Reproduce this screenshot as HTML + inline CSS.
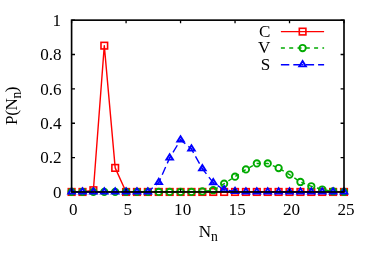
<!DOCTYPE html><html><head><meta charset="utf-8"><style>html,body{margin:0;padding:0;background:#fff}body{width:374px;height:262px;overflow:hidden}</style></head><body><svg width="374" height="262" viewBox="0 0 374 262" style="display:block;will-change:transform" font-family="'Liberation Serif', serif" font-size="17.1" fill="#000">
<rect width="374" height="262" fill="#fff"/>
<text x="61.6" y="197.75" text-anchor="end">0</text>
<text x="61.6" y="163.39" text-anchor="end">0.2</text>
<text x="61.6" y="129.03" text-anchor="end">0.4</text>
<text x="61.6" y="94.67" text-anchor="end">0.6</text>
<text x="61.6" y="60.31" text-anchor="end">0.8</text>
<text x="61" y="25.95" text-anchor="end">1</text>
<text x="73.20" y="214.7" text-anchor="middle">0</text>
<text x="127.68" y="214.7" text-anchor="middle">5</text>
<text x="182.66" y="214.7" text-anchor="middle">10</text>
<text x="237.14" y="214.7" text-anchor="middle">15</text>
<text x="291.62" y="214.7" text-anchor="middle">20</text>
<text x="346.10" y="214.7" text-anchor="middle">25</text>
<text transform="translate(16.7,105.9) rotate(-90)" text-anchor="middle" letter-spacing="-0.4">P(N<tspan dy="4" font-size="13.7">n</tspan><tspan dy="-4">)</tspan></text>
<text x="208.3" y="237" text-anchor="middle">N<tspan dy="4.3" font-size="13.7">n</tspan></text>
<polyline points="71.60,191.95 82.50,191.95 93.39,190.23 104.29,45.66 115.18,167.90 126.08,191.95 136.98,191.95 147.87,191.95 158.77,191.95 169.66,191.95 180.56,191.95 191.46,191.95 202.35,191.95 213.25,191.95 224.14,191.95 235.04,191.95 245.94,191.95 256.83,191.95 267.73,191.95 278.62,191.95 289.52,191.95 300.42,191.95 311.31,191.95 322.21,191.95 333.10,191.95 344.00,191.95" fill="none" stroke="#ff0000" stroke-width="1.4" stroke-linejoin="round"/>
<g fill="none" stroke="#ff0000" stroke-width="1.6"><rect x="68.30" y="188.65" width="6.60" height="6.60"/><rect x="79.20" y="188.65" width="6.60" height="6.60"/><rect x="90.09" y="186.93" width="6.60" height="6.60"/><rect x="100.99" y="42.36" width="6.60" height="6.60"/><rect x="111.88" y="164.60" width="6.60" height="6.60"/><rect x="122.78" y="188.65" width="6.60" height="6.60"/><rect x="133.68" y="188.65" width="6.60" height="6.60"/><rect x="144.57" y="188.65" width="6.60" height="6.60"/><rect x="155.47" y="188.65" width="6.60" height="6.60"/><rect x="166.36" y="188.65" width="6.60" height="6.60"/><rect x="177.26" y="188.65" width="6.60" height="6.60"/><rect x="188.16" y="188.65" width="6.60" height="6.60"/><rect x="199.05" y="188.65" width="6.60" height="6.60"/><rect x="209.95" y="188.65" width="6.60" height="6.60"/><rect x="220.84" y="188.65" width="6.60" height="6.60"/><rect x="231.74" y="188.65" width="6.60" height="6.60"/><rect x="242.64" y="188.65" width="6.60" height="6.60"/><rect x="253.53" y="188.65" width="6.60" height="6.60"/><rect x="264.43" y="188.65" width="6.60" height="6.60"/><rect x="275.32" y="188.65" width="6.60" height="6.60"/><rect x="286.22" y="188.65" width="6.60" height="6.60"/><rect x="297.12" y="188.65" width="6.60" height="6.60"/><rect x="308.01" y="188.65" width="6.60" height="6.60"/><rect x="318.91" y="188.65" width="6.60" height="6.60"/><rect x="329.80" y="188.65" width="6.60" height="6.60"/><rect x="340.70" y="188.65" width="6.60" height="6.60"/></g>
<polyline points="71.60,191.95 82.50,191.95 93.39,191.95 104.29,191.95 115.18,191.95 126.08,191.95 136.98,191.95 147.87,191.95 158.77,191.95 169.66,191.95 180.56,191.95 191.46,191.95 202.35,191.43 213.25,190.23 224.14,183.70 235.04,176.66 245.94,169.44 256.83,163.43 267.73,163.43 278.62,168.07 289.52,174.60 300.42,181.99 311.31,186.28 322.21,189.54 333.10,191.26 344.00,191.95" fill="none" stroke="#00aa00" stroke-width="1.4" stroke-dasharray="4 4.3" stroke-dashoffset="6.5"/>
<g fill="none" stroke="#00aa00" stroke-width="1.85"><circle cx="71.60" cy="191.95" r="3.20"/><circle cx="82.50" cy="191.95" r="3.20"/><circle cx="93.39" cy="191.95" r="3.20"/><circle cx="104.29" cy="191.95" r="3.20"/><circle cx="115.18" cy="191.95" r="3.20"/><circle cx="126.08" cy="191.95" r="3.20"/><circle cx="136.98" cy="191.95" r="3.20"/><circle cx="147.87" cy="191.95" r="3.20"/><circle cx="158.77" cy="191.95" r="3.20"/><circle cx="169.66" cy="191.95" r="3.20"/><circle cx="180.56" cy="191.95" r="3.20"/><circle cx="191.46" cy="191.95" r="3.20"/><circle cx="202.35" cy="191.43" r="3.20"/><circle cx="213.25" cy="190.23" r="3.20"/><circle cx="224.14" cy="183.70" r="3.20"/><circle cx="235.04" cy="176.66" r="3.20"/><circle cx="245.94" cy="169.44" r="3.20"/><circle cx="256.83" cy="163.43" r="3.20"/><circle cx="267.73" cy="163.43" r="3.20"/><circle cx="278.62" cy="168.07" r="3.20"/><circle cx="289.52" cy="174.60" r="3.20"/><circle cx="300.42" cy="181.99" r="3.20"/><circle cx="311.31" cy="186.28" r="3.20"/><circle cx="322.21" cy="189.54" r="3.20"/><circle cx="333.10" cy="191.26" r="3.20"/><circle cx="344.00" cy="191.95" r="3.20"/></g>
<polyline points="71.60,191.95 82.50,191.95 93.39,191.95 104.29,191.95 115.18,191.95 126.08,191.95 136.98,191.95 147.87,191.95 158.77,182.50 169.66,157.93 180.56,139.89 191.46,149.00 202.35,168.76 213.25,182.67 224.14,189.72 235.04,191.43 245.94,191.95 256.83,191.95 267.73,191.95 278.62,191.95 289.52,191.95 300.42,191.95 311.31,191.95 322.21,191.95 333.10,191.95 344.00,191.95" fill="none" stroke="#0000ff" stroke-width="1.4" stroke-dasharray="8.4 4"/>
<g fill="none" stroke="#0000ff" stroke-width="1.9"><path d="M71.60 188.25L68.30 193.60H74.90Z"/><path d="M71.60 191.85h0.01" stroke-linecap="round"/><path d="M82.50 188.25L79.20 193.60H85.80Z"/><path d="M82.50 191.85h0.01" stroke-linecap="round"/><path d="M93.39 188.25L90.09 193.60H96.69Z"/><path d="M93.39 191.85h0.01" stroke-linecap="round"/><path d="M104.29 188.25L100.99 193.60H107.59Z"/><path d="M104.29 191.85h0.01" stroke-linecap="round"/><path d="M115.18 188.25L111.88 193.60H118.48Z"/><path d="M115.18 191.85h0.01" stroke-linecap="round"/><path d="M126.08 188.25L122.78 193.60H129.38Z"/><path d="M126.08 191.85h0.01" stroke-linecap="round"/><path d="M136.98 188.25L133.68 193.60H140.28Z"/><path d="M136.98 191.85h0.01" stroke-linecap="round"/><path d="M147.87 188.25L144.57 193.60H151.17Z"/><path d="M147.87 191.85h0.01" stroke-linecap="round"/><path d="M158.77 178.80L155.47 184.15H162.07Z"/><path d="M158.77 182.40h0.01" stroke-linecap="round"/><path d="M169.66 154.24L166.36 159.58H172.96Z"/><path d="M169.66 157.83h0.01" stroke-linecap="round"/><path d="M180.56 136.20L177.26 141.54H183.86Z"/><path d="M180.56 139.79h0.01" stroke-linecap="round"/><path d="M191.46 145.30L188.16 150.65H194.76Z"/><path d="M191.46 148.90h0.01" stroke-linecap="round"/><path d="M202.35 165.06L199.05 170.41H205.65Z"/><path d="M202.35 168.66h0.01" stroke-linecap="round"/><path d="M213.25 178.98L209.95 184.32H216.55Z"/><path d="M213.25 182.57h0.01" stroke-linecap="round"/><path d="M224.14 186.02L220.84 191.37H227.44Z"/><path d="M224.14 189.62h0.01" stroke-linecap="round"/><path d="M235.04 187.74L231.74 193.08H238.34Z"/><path d="M235.04 191.33h0.01" stroke-linecap="round"/><path d="M245.94 188.25L242.64 193.60H249.24Z"/><path d="M245.94 191.85h0.01" stroke-linecap="round"/><path d="M256.83 188.25L253.53 193.60H260.13Z"/><path d="M256.83 191.85h0.01" stroke-linecap="round"/><path d="M267.73 188.25L264.43 193.60H271.03Z"/><path d="M267.73 191.85h0.01" stroke-linecap="round"/><path d="M278.62 188.25L275.32 193.60H281.92Z"/><path d="M278.62 191.85h0.01" stroke-linecap="round"/><path d="M289.52 188.25L286.22 193.60H292.82Z"/><path d="M289.52 191.85h0.01" stroke-linecap="round"/><path d="M300.42 188.25L297.12 193.60H303.72Z"/><path d="M300.42 191.85h0.01" stroke-linecap="round"/><path d="M311.31 188.25L308.01 193.60H314.61Z"/><path d="M311.31 191.85h0.01" stroke-linecap="round"/><path d="M322.21 188.25L318.91 193.60H325.51Z"/><path d="M322.21 191.85h0.01" stroke-linecap="round"/><path d="M333.10 188.25L329.80 193.60H336.40Z"/><path d="M333.10 191.85h0.01" stroke-linecap="round"/><path d="M344.00 188.25L340.70 193.60H347.30Z"/><path d="M344.00 191.85h0.01" stroke-linecap="round"/></g>
<path d="M71.60 191.95v-3.1M71.60 20.15v3.1M126.08 191.95v-3.1M126.08 20.15v3.1M180.56 191.95v-3.1M180.56 20.15v3.1M235.04 191.95v-3.1M235.04 20.15v3.1M289.52 191.95v-3.1M289.52 20.15v3.1M344.00 191.95v-3.1M344.00 20.15v3.1M71.60 191.95h3.4M344.00 191.95h-3.4M71.60 157.59h3.4M344.00 157.59h-3.4M71.60 123.23h3.4M344.00 123.23h-3.4M71.60 88.87h3.4M344.00 88.87h-3.4M71.60 54.51h3.4M344.00 54.51h-3.4M71.60 20.15h3.4M344.00 20.15h-3.4" stroke="#000" stroke-width="1.3" fill="none"/>
<rect x="71.60" y="20.15" width="272.40" height="171.80" fill="none" stroke="#000" stroke-width="1.65"/>
<text x="270.3" y="37.00" text-anchor="end">C</text>
<text x="270.3" y="53.40" text-anchor="end">V</text>
<text x="270.3" y="70.10" text-anchor="end">S</text>
<g fill="none" stroke="#ff0000"><path d="M280.9 31.6H324.1" stroke-width="1.4"/><g stroke-width="1.6"><rect x="299.30" y="28.30" width="6.60" height="6.60"/></g></g>
<g fill="none" stroke="#00aa00"><path d="M280.9 48H324.1" stroke-width="1.4" stroke-dasharray="4 4.3"/><g stroke-width="1.85"><circle cx="302.60" cy="48.00" r="3.20"/></g></g>
<g fill="none" stroke="#0000ff"><path d="M280.9 64.7H324.1" stroke-width="1.4" stroke-dasharray="8.4 4"/><g stroke-width="1.9"><path d="M302.60 61.00L299.30 66.35H305.90Z"/><path d="M302.60 64.60h0.01" stroke-linecap="round"/></g></g>
</svg></body></html>
